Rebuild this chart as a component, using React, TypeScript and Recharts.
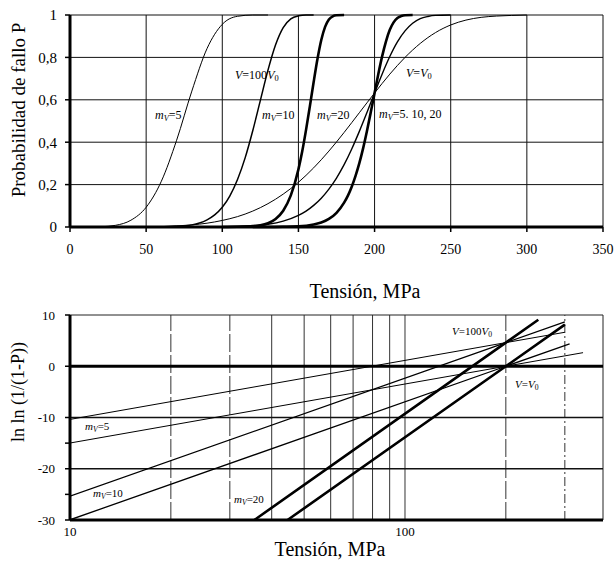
import React from "react";
import { LineChart, Line, XAxis, YAxis, CartesianGrid, ReferenceLine } from "recharts";

// --- top panel: failure probability vs stress (MPa) ---
const sV0m5 = [20, 60, 70, 80, 90, 100, 110, 120, 130, 140, 150, 160, 170, 180, 190, 200, 210, 220, 230, 240, 250, 260, 270, 280, 290, 300];
const pV0m5 = [0, 0.002, 0.005, 0.01, 0.018, 0.031, 0.049, 0.075, 0.11, 0.155, 0.211, 0.279, 0.358, 0.446, 0.539, 0.632, 0.721, 0.8, 0.866, 0.917, 0.953, 0.976, 0.989, 0.995, 0.998, 1];

const s100m5 = [15, 20, 30, 40, 50, 60, 70, 80, 90, 100, 110, 120, 130];
const p100m5 = [0, 0.001, 0.008, 0.032, 0.093, 0.216, 0.409, 0.641, 0.842, 0.956, 0.994, 1, 1];

const sV0m10 = [90, 100, 110, 120, 130, 140, 150, 155, 160, 165, 170, 175, 180, 185, 190, 195, 200, 205, 210, 215, 220, 225, 230, 235, 240, 250];
const pV0m10 = [0, 0.001, 0.003, 0.006, 0.013, 0.028, 0.055, 0.075, 0.102, 0.136, 0.179, 0.231, 0.294, 0.368, 0.451, 0.54, 0.632, 0.722, 0.804, 0.873, 0.925, 0.961, 0.983, 0.993, 0.998, 1];

const s100m10 = [50, 60, 70, 80, 85, 90, 95, 100, 105, 110, 115, 120, 125, 130, 135, 140, 145, 150, 155, 160];
const p100m10 = [0, 0.001, 0.003, 0.01, 0.019, 0.034, 0.057, 0.093, 0.147, 0.224, 0.326, 0.454, 0.597, 0.74, 0.86, 0.941, 0.982, 0.996, 1, 1];

const sV0m20 = [120, 130, 140, 150, 160, 165, 170, 175, 180, 182.5, 185, 187.5, 190, 192.5, 195, 197.5, 200, 202.5, 205, 207.5, 210, 212.5, 215, 217.5, 220, 225];
const pV0m20 = [0, 0, 0.001, 0.003, 0.012, 0.021, 0.038, 0.067, 0.115, 0.148, 0.19, 0.241, 0.301, 0.372, 0.453, 0.541, 0.632, 0.723, 0.806, 0.876, 0.93, 0.965, 0.986, 0.995, 0.999, 1];

const s100m20 = [100, 110, 120, 125, 130, 135, 140, 145, 150, 152.5, 155, 157.5, 160, 162.5, 165, 167.5, 170, 172.5, 175, 180];
const p100m20 = [0, 0.001, 0.004, 0.008, 0.018, 0.038, 0.077, 0.149, 0.272, 0.357, 0.458, 0.569, 0.684, 0.792, 0.882, 0.944, 0.979, 0.994, 0.999, 1];

const stressTicks = [0, 50, 100, 150, 200, 250, 300, 350];
const probTicks = [0, 0.2, 0.4, 0.6, 0.8, 1];

// --- bottom panel: ln ln(1/(1-P)) vs log stress ---
const lV0m5s = [10, 200, 340];
const lV0m5v = [-14.98, 0, 2.65];
const l100m5s = [10, 200, 300];
const l100m5v = [-10.37, 4.61, 6.63];
const lV0m10s = [10, 200, 310];
const lV0m10v = [-29.96, 0, 4.38];
const l100m10s = [10, 200, 300];
const l100m10v = [-25.35, 4.61, 8.66];
const lV0m20s = [44.6, 200, 300];
const lV0m20v = [-30, 0, 8.11];
const l100m20s = [35.5, 200, 250];
const l100m20v = [-30, 4.61, 9.07];

const logTicks = [10, 100];
const logGrid = [20, 30, 40, 50, 60, 70, 80, 90, 100, 200, 300];
const lnTicks = [-30, -25, -20, -15, -10, 0, 10];

const zip = (s: number[], v: number[]) => s.map((x, i) => ({ s: x, v: v[i] }));

const serif = "'Liberation Serif', 'Times New Roman', serif";

function Note({ left, top, size = 12, bg, children }: any) {
  return (
    <div
      style={{
        position: "absolute",
        left,
        top,
        fontSize: size,
        fontFamily: serif,
        lineHeight: 1,
        whiteSpace: "nowrap",
        background: bg,
        color: "#000",
      }}
    >
      {children}
    </div>
  );
}

function Title({ cx, cy, size = 20, rotate = false, children }: any) {
  return (
    <div
      style={{
        position: "absolute",
        left: cx,
        top: cy,
        transform: `translate(-50%, -50%)${rotate ? " rotate(-90deg)" : ""}`,
        fontSize: size,
        fontFamily: serif,
        whiteSpace: "nowrap",
        lineHeight: 1,
        color: "#000",
      }}
    >
      {children}
    </div>
  );
}

const sub = { fontSize: "0.7em", verticalAlign: "-0.25em" };
const mV = (
  <>
    <i>m</i>
    <sub style={sub}>
      <i>V</i>
    </sub>
  </>
);
const V100 = (
  <>
    <i>V</i>=100<i>V</i>
    <sub style={sub}>0</sub>
  </>
);
const VV0 = (
  <>
    <i>V</i>=<i>V</i>
    <sub style={sub}>0</sub>
  </>
);

export default function App() {
  const tickStyle = { fill: "#000", fontSize: 14, fontFamily: serif };
  return (
    <div style={{ position: "absolute", left: 0, top: 0, width: 614, height: 561, background: "#fff" }}>
      <div style={{ position: "absolute", left: 0, top: 0 }}>
        <LineChart width={614} height={300} margin={{ top: 15, right: 11, left: 0, bottom: 0 }}>
          <CartesianGrid stroke="#111" strokeWidth={1} />
          <XAxis
            type="number"
            dataKey="s"
            domain={[0, 350]}
            ticks={stressTicks}
            height={73}
            tickSize={5}
            tickMargin={12}
            tick={tickStyle}
            axisLine={{ stroke: "#000", strokeWidth: 3 }}
            tickLine={{ stroke: "#000", strokeWidth: 1.5 }}
          />
          <YAxis
            type="number"
            domain={[0, 1]}
            ticks={probTicks}
            width={70}
            tickSize={5}
            tickMargin={8}
            tick={{ ...tickStyle, fontSize: 15 }}
            tickFormatter={(v: number) => String(v).replace(".", ",")}
            axisLine={{ stroke: "#000", strokeWidth: 3 }}
            tickLine={{ stroke: "#000", strokeWidth: 1.5 }}
          />
          <Line data={zip(sV0m5, pV0m5)} dataKey="v" type="monotone" stroke="#000" strokeWidth={1} dot={false} isAnimationActive={false} />
          <Line data={zip(s100m5, p100m5)} dataKey="v" type="monotone" stroke="#000" strokeWidth={1} dot={false} isAnimationActive={false} />
          <Line data={zip(sV0m10, pV0m10)} dataKey="v" type="monotone" stroke="#000" strokeWidth={1.4} dot={false} isAnimationActive={false} />
          <Line data={zip(s100m10, p100m10)} dataKey="v" type="monotone" stroke="#000" strokeWidth={1.5} dot={false} isAnimationActive={false} />
          <Line data={zip(sV0m20, pV0m20)} dataKey="v" type="monotone" stroke="#000" strokeWidth={2.6} dot={false} isAnimationActive={false} />
          <Line data={zip(s100m20, p100m20)} dataKey="v" type="monotone" stroke="#000" strokeWidth={2.6} dot={false} isAnimationActive={false} />
        </LineChart>
      </div>

      <div style={{ position: "absolute", left: 0, top: 300 }}>
        <LineChart width={614} height={261} margin={{ top: 15, right: 11, left: 0, bottom: 0 }}>
          <XAxis
            type="number"
            dataKey="s"
            scale="log"
            domain={[10, 390]}
            allowDataOverflow
            ticks={logTicks}
            height={41}
            tickSize={0}
            tickMargin={7}
            tick={{ ...tickStyle, fontSize: 13 }}
            axisLine={{ stroke: "#000", strokeWidth: 3 }}
            tickLine={false}
          />
          <YAxis
            type="number"
            domain={[-30, 10]}
            ticks={lnTicks}
            width={70}
            tickSize={5}
            tickMargin={10}
            tick={{ ...tickStyle, fontSize: 13 }}
            tickFormatter={(v: number) => (v % 10 === 0 ? String(v) : "")}
            axisLine={{ stroke: "#000", strokeWidth: 3 }}
            tickLine={{ stroke: "#000", strokeWidth: 1.5 }}
          />
          {logGrid.map((g) => (
            <ReferenceLine
              key={g}
              x={g}
              stroke="#333"
              strokeWidth={1}
              strokeDasharray={g === 300 ? "9 3 2 3" : g === 200 || g < 40 ? "18 3" : undefined}
            />
          ))}
          <ReferenceLine x={390} stroke="#222" strokeWidth={1} />
          <ReferenceLine y={10} stroke="#222" strokeWidth={1} />
          <ReferenceLine y={-10} stroke="#111" strokeWidth={1.5} />
          <ReferenceLine y={-20} stroke="#111" strokeWidth={1.5} />
          <ReferenceLine y={0} stroke="#000" strokeWidth={2.8} />
          <Line data={zip(lV0m5s, lV0m5v)} dataKey="v" type="linear" stroke="#000" strokeWidth={1} dot={false} isAnimationActive={false} />
          <Line data={zip(l100m5s, l100m5v)} dataKey="v" type="linear" stroke="#000" strokeWidth={1} dot={false} isAnimationActive={false} />
          <Line data={zip(lV0m10s, lV0m10v)} dataKey="v" type="linear" stroke="#000" strokeWidth={1.3} dot={false} isAnimationActive={false} />
          <Line data={zip(l100m10s, l100m10v)} dataKey="v" type="linear" stroke="#000" strokeWidth={1.3} dot={false} isAnimationActive={false} />
          <Line data={zip(lV0m20s, lV0m20v)} dataKey="v" type="linear" stroke="#000" strokeWidth={2.6} dot={false} isAnimationActive={false} />
          <Line data={zip(l100m20s, l100m20v)} dataKey="v" type="linear" stroke="#000" strokeWidth={2.6} dot={false} isAnimationActive={false} />
        </LineChart>
      </div>

      {/* axis titles */}
      <Title cx={18} cy={110} size={19} rotate>Probabilidad de fallo P</Title>
      <Title cx={365} cy={291}>Tensión, MPa</Title>
      <Title cx={18} cy={392} size={18} rotate>ln ln (1/(1-P))</Title>
      <Title cx={330} cy={549}>Tensión, MPa</Title>

      {/* top annotations */}
      <Note left={155} top={109}>{mV}=5</Note>
      <Note left={235} top={69}>{V100}</Note>
      <Note left={262} top={109}>{mV}=10</Note>
      <Note left={317} top={109}>{mV}=20</Note>
      <Note left={406} top={67}>{VV0}</Note>
      <Note left={379} top={108}>{mV}=5. 10, 20</Note>

      {/* bottom annotations */}
      <Note left={452} top={326} size={11}>{V100}</Note>
      <Note left={515} top={379} size={11}>{VV0}</Note>
      <Note left={85} top={421} size={11}>{mV}=5</Note>
      <Note left={93} top={488} size={11}>{mV}=10</Note>
      <Note left={234} top={494} size={11} bg="#fff">{mV}=20</Note>
    </div>
  );
}
